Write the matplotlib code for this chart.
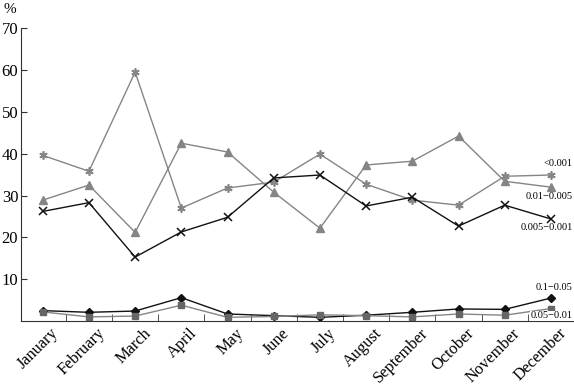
import matplotlib
matplotlib.use("Agg")
import matplotlib.pyplot as plt
import matplotlib.transforms as mtransforms

plt.rcParams["font.family"] = ["Liberation Serif", "DejaVu Serif"]

MONTHS = ["January", "February", "March", "April", "May", "June", "July",
          "August", "September", "October", "November", "December"]

# percentage of samples by p-value class
P_LT_0001 = [39.6, 35.8, 59.5, 27.0, 31.8, 33.2, 39.9, 32.7, 28.9, 27.7, 34.6, 34.9]
P_001_0005 = [28.9, 32.5, 21.2, 42.5, 40.4, 30.8, 22.2, 37.3, 38.2, 44.2, 33.4, 32.0]
P_0005_0001 = [26.2, 28.3, 15.3, 21.3, 24.8, 34.2, 34.9, 27.5, 29.6, 22.7, 27.7, 24.4]
P_01_005 = [2.5, 2.1, 2.4, 5.6, 1.7, 1.3, 0.9, 1.4, 2.1, 2.9, 2.8, 5.5]
P_005_001 = [2.2, 1.0, 1.2, 3.8, 0.9, 1.1, 1.5, 1.3, 1.0, 1.7, 1.4, 3.0]

GRAY = "#858585"
BLACK = "#111111"

fig = plt.figure(figsize=(5.74, 3.85), dpi=100)
ax = fig.add_axes([0.0366, 0.166, 0.9634, 0.761])

x = list(range(len(MONTHS)))
ax.plot(x, P_LT_0001, color=GRAY, lw=1, marker=(6, 2, 0), ms=6, mew=1.2)
ax.plot(x, P_001_0005, color=GRAY, lw=1, marker="^", ms=6, mec=GRAY)
ax.plot(x, P_0005_0001, color=BLACK, lw=1, marker="x", ms=6, mew=1.1)
ax.plot(x, P_01_005, color=BLACK, lw=1, marker="D", ms=4)
ax.plot(x, P_005_001, color=GRAY, lw=1, marker="s", ms=5, mec="#666666", mfc="#666666")

ax.set_xlim(-0.47, 11.5)
ax.set_ylim(0, 70)
ax.spines["top"].set_visible(False)
ax.spines["right"].set_visible(False)
ax.spines["left"].set_color("#333333")
ax.spines["bottom"].set_color("#333333")

ax.set_yticks(range(10, 71, 10))
ax.tick_params(axis="y", direction="in", length=4, labelsize=12, pad=2, color="#333333")

ax.set_xticks(x)
ax.set_xticklabels(MONTHS, rotation=45, ha="right", fontsize=11.8)
ax.set_xticks([i + 0.5 for i in range(11)], minor=True)
ax.tick_params(axis="x", which="major", length=0, pad=3)
ax.tick_params(axis="x", which="minor", direction="in", length=5, color="#333333")
offset = mtransforms.ScaledTranslation(19 / 100, 0, fig.dpi_scale_trans)
for lbl in ax.get_xticklabels():
    lbl.set_transform(lbl.get_transform() + offset)

fig.text(0.006, 0.975, "%", fontsize=11, va="center", ha="left")

lab = dict(fontsize=7.5, ha="right", va="center", transform=fig.transFigure)
fig.text(0.998, 1 - 164 / 385, "<0.001", **lab)
fig.text(0.998, 1 - 197 / 385, "0.01\u22120.005", **lab)
fig.text(0.998, 1 - 228 / 385, "0.005\u22120.001", **lab)
fig.text(0.998, 1 - 287 / 385, "0.1\u22120.05", **lab)
fig.text(0.998, 1 - 316 / 385, "0.05\u22120.01",
         bbox=dict(facecolor="white", edgecolor="none", pad=0.5), **lab)

fig.savefig("out.png", dpi=100)
